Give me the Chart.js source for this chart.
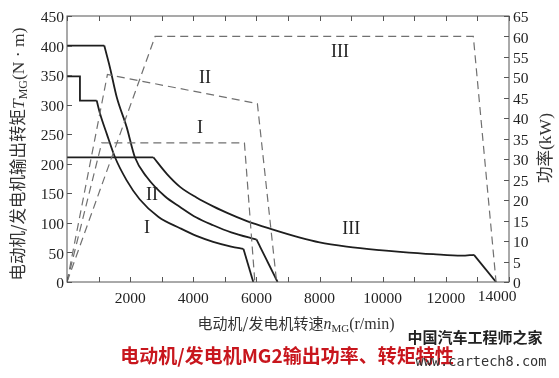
<!DOCTYPE html>
<html lang="zh">
<head>
<meta charset="UTF-8">
<title>电动机/发电机MG2输出功率、转矩特性</title>
<style>
    body { margin: 0; background: #fff; }
    canvas { display: block; }
</style>
</head>
<body>
<canvas id="grafica" width="559" height="378"></canvas>
<script src="https://cdn.jsdelivr.net/npm/chart.js"></script>
<script>
// 转矩曲线 (r/min, N·m)
const speedI   = [0, 410, 410, 940, 1045, 1257, 1520, 1890, 2300, 2900, 3580, 4100, 4630, 5200, 5590, 5900];
const torqueI  = [348, 348, 307, 307, 285, 251, 211, 172, 140, 110, 91, 78, 68, 60, 56, 0];
const speedII  = [0, 1180, 1360, 1574, 1890, 2150, 2520, 3100, 3580, 4100, 4630, 5200, 5850, 6000, 6670];
const torqueII = [400, 400, 363, 313, 262, 211, 178, 145, 127, 109, 96, 84, 74, 72, 0];
const speedIII  = [0, 2735, 3160, 3580, 4100, 4630, 5200, 5700, 6500, 7380, 8000, 8860, 9900, 10550, 11600, 12500, 12890, 13590];
const torqueIII = [211, 211, 183, 161, 143, 128, 114, 103, 89, 75, 67, 60, 54, 51, 47, 44.5, 46, 0];

// 功率曲线 (r/min, kW)
const pSpeedI   = [0, 1100, 5620, 5950];
const powerI    = [0, 34, 34, 0];
const pSpeedII  = [0, 1280, 6030, 6640];
const powerII   = [0, 50.7, 43.6, 0];
const pSpeedIII = [0, 2790, 12870, 13590];
const powerIII  = [0, 60, 60, 0];

// 曲线编号: [文字, 转速, 数值, 坐标轴]
const curveLabels = [
    ['I', 4210, 37.6, 'y1'],
    ['II', 4370, 49.8, 'y1'],
    ['III', 8650, 56.1, 'y1'],
    ['II', 2690, 147, 'y'],
    ['I', 2530, 91, 'y'],
    ['III', 9000, 89, 'y']
];

const serif = '"Liberation Serif", "DejaVu Serif", serif';
const cjk = '"Noto Sans CJK SC", sans-serif';

function puntos(xs, ys) {
    return xs.map((v, i) => ({ x: v, y: ys[i] }));
}

function curva(xs, ys, axis, dashed, suave) {
    return {
        data: puntos(xs, ys),
        yAxisID: axis,
        borderColor: dashed ? '#707070' : '#1e1e1e',
        borderWidth: dashed ? 1.2 : 1.8,
        borderDash: dashed ? [8, 5] : [],
        pointRadius: 0,
        tension: 0,
        cubicInterpolationMode: suave ? 'monotone' : 'default',
        fill: false
    };
}

// tramo recto + tramo curvo (a..b) + caida final
function tramos(xs, ys, a, b) {
    return [
        curva(xs.slice(0, a + 1), ys.slice(0, a + 1), 'y', false, false),
        curva(xs.slice(a, b + 1), ys.slice(a, b + 1), 'y', false, true),
        curva(xs.slice(b), ys.slice(b), 'y', false, false)
    ];
}

function drawRuns(ctx, runs, x, y, angle) {
    ctx.save();
    ctx.translate(x, y);
    ctx.rotate(angle);
    let total = 0;
    runs.forEach(r => { ctx.font = r.font; r.w = ctx.measureText(r.text).width; total += r.w; });
    let cx = -total / 2;
    ctx.textAlign = 'left';
    ctx.textBaseline = 'alphabetic';
    runs.forEach(r => { ctx.font = r.font; ctx.fillText(r.text, cx, 6 + (r.dy || 0)); cx += r.w; });
    ctx.restore();
}

const marco = {
    id: 'marco',
    afterDraw(chart) {
        const ctx = chart.ctx;
        const a = chart.chartArea;
        const sx = chart.scales.x, sy = chart.scales.y, sy1 = chart.scales.y1;
        ctx.save();
        ctx.strokeStyle = '#555';
        ctx.lineWidth = 1;
        ctx.strokeRect(a.left, a.top, a.right - a.left, a.bottom - a.top);
        ctx.beginPath();
        for (let v = 0; v <= 14000; v += 1000) {
            const px = Math.round(sx.getPixelForValue(v)) + 0.5;
            ctx.moveTo(px, a.bottom); ctx.lineTo(px, a.bottom - 5);
            ctx.moveTo(px, a.top); ctx.lineTo(px, a.top + 5);
        }
        for (let v = 0; v <= 450; v += 50) {
            const py = Math.round(sy.getPixelForValue(v)) + 0.5;
            ctx.moveTo(a.left, py); ctx.lineTo(a.left + 5, py);
        }
        for (let v = 0; v <= 65; v += 5) {
            const py = Math.round(sy1.getPixelForValue(v)) + 0.5;
            ctx.moveTo(a.right, py); ctx.lineTo(a.right - 5, py);
        }
        ctx.stroke();

        ctx.fillStyle = '#222';
        ctx.font = '15.5px ' + serif;
        ctx.textAlign = 'center';
        ctx.textBaseline = 'middle';
        ctx.fillText('14000', sx.getPixelForValue(14000) - 12, 297);

        ctx.font = '18px ' + serif;
        curveLabels.forEach(l => {
            const sc = chart.scales[l[3]];
            ctx.fillText(l[0], sx.getPixelForValue(l[1]), sc.getPixelForValue(l[2]));
        });

        ctx.fillStyle = '#333';
        drawRuns(ctx, [
            { text: '电动机/发电机输出转矩', font: '16.5px ' + cjk },
            { text: 'T', font: 'italic 17.5px ' + serif },
            { text: 'MG', font: '12px ' + serif, dy: 3 },
            { text: '(N · m)', font: '17.5px ' + serif }
        ], 18, 154, -Math.PI / 2);
        drawRuns(ctx, [
            { text: '电动机/发电机转速', font: '15px ' + cjk },
            { text: 'n', font: 'italic 16px ' + serif },
            { text: 'MG', font: '11px ' + serif, dy: 3 },
            { text: '(r/min)', font: '16px ' + serif }
        ], 296, 323, 0);
        drawRuns(ctx, [
            { text: '功率', font: '16.5px ' + cjk },
            { text: '(kW)', font: '17.5px ' + serif }
        ], 545, 148, -Math.PI / 2);

        ctx.fillStyle = '#c8161d';
        ctx.font = 'bold 19px ' + cjk;
        ctx.textAlign = 'center';
        ctx.textBaseline = 'middle';
        ctx.fillText('电动机/发电机MG2输出功率、转矩特性', 287, 356);

        ctx.fillStyle = '#222';
        ctx.font = 'bold 15px ' + cjk;
        ctx.fillText('中国汽车工程师之家', 475, 337);
        ctx.fillStyle = '#333';
        ctx.font = '13.6px "DejaVu Sans Mono", monospace';
        ctx.fillText('www.cartech8.com', 481, 362);
        ctx.restore();
    }
};

new Chart(document.getElementById('grafica'), {
    type: 'line',
    data: {
        datasets: [
            curva(pSpeedI, powerI, 'y1', true, false),
            curva(pSpeedII, powerII, 'y1', true, false),
            curva(pSpeedIII, powerIII, 'y1', true, false),
            ...tramos(speedI, torqueI, 3, 14),
            ...tramos(speedII, torqueII, 1, 13),
            ...tramos(speedIII, torqueIII, 1, 16)
        ]
    },
    options: {
        responsive: false,
        animation: false,
        layout: { padding: { top: 16, left: 0, right: 0, bottom: 0 } },
        plugins: { legend: { display: false }, tooltip: { enabled: false } },
        scales: {
            x: {
                type: 'linear',
                min: 0,
                max: 14000,
                grid: { display: false, drawTicks: false },
                border: { display: false },
                afterFit: s => { s.height = 96; },
                ticks: {
                    stepSize: 1000,
                    autoSkip: false,
                    maxRotation: 0,
                    padding: 8,
                    color: '#222',
                    font: { family: serif, size: 15.5 },
                    callback: v => (v > 0 && v < 14000 && v % 2000 === 0) ? String(v) : ''
                }
            },
            y: {
                position: 'left',
                min: 0,
                max: 450,
                grid: { display: false, drawTicks: false },
                border: { display: false },
                afterFit: s => { s.width = 67; },
                ticks: {
                    stepSize: 50,
                    padding: 3,
                    labelOffset: 2,
                    color: '#222',
                    font: { family: serif, size: 15.5 }
                }
            },
            y1: {
                position: 'right',
                min: 0,
                max: 65,
                grid: { display: false, drawTicks: false },
                border: { display: false },
                afterFit: s => { s.width = 50; },
                ticks: {
                    stepSize: 5,
                    autoSkip: false,
                    padding: 4,
                    labelOffset: 2,
                    color: '#222',
                    font: { family: serif, size: 15.5 }
                }
            }
        }
    },
    plugins: [marco]
});
</script>
</body>
</html>
